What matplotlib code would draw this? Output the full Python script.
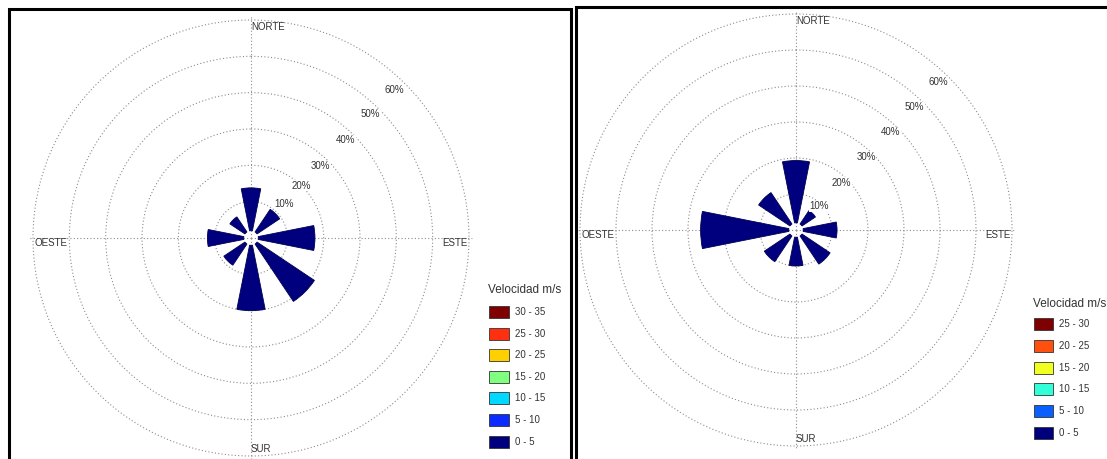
import numpy as np
import matplotlib.pyplot as plt
from matplotlib.patches import Rectangle

plt.rcParams['font.family'] = ['Liberation Sans', 'DejaVu Sans']

# wind directions (degrees clockwise from north)
dir_deg = [0, 45, 90, 135, 180, 225, 270, 315]
# frequency (%) per direction, all in the 0-5 m/s class
freq_left = [13.8, 9.5, 17.6, 21.0, 20.0, 9.0, 12.0, 7.0]
freq_right = [19.3, 6.5, 11.4, 11.4, 10.0, 10.6, 26.5, 12.5]

ring_vals = [10, 20, 30, 40, 50, 60]
ring_labels = ['10%', '20%', '30%', '40%', '50%', '60%']

classes_left = ['30 - 35', '25 - 30', '20 - 25', '15 - 20', '10 - 15', '5 - 10', '0 - 5']
colors_left = ['#7f0000', '#ff3010', '#ffd000', '#80ff80', '#00d8ff', '#0a2cff', '#00007f']
classes_right = ['25 - 30', '20 - 25', '15 - 20', '10 - 15', '5 - 10', '0 - 5']
colors_right = ['#7f0000', '#ff5010', '#f0ff20', '#30ffd8', '#0a60ff', '#00007f']

W, H = 1107, 459
fig = plt.figure(figsize=(W / 100, H / 100), dpi=100)
NAVY = '#00007f'
TXT = '#333333'
HOLE = 2.0
RMAX = 61.0


def fx(x):
    return x / W


def fy(y):
    return 1 - y / H


def rose(cx, cy, r60, freqs, lab_r):
    R = r60 * RMAX / 60
    ax = fig.add_axes([fx(cx - R), fy(cy + R), 2 * R / W, 2 * R / H], projection='polar')
    ax.set_theta_zero_location('N')
    ax.set_theta_direction(-1)
    th = np.deg2rad(dir_deg)
    ax.bar(th, np.array(freqs) - HOLE, width=np.deg2rad(22.5), bottom=HOLE,
           color=NAVY, edgecolor='#000050', lw=0.6, zorder=3)
    ax.set_ylim(0, RMAX)
    ax.set_yticks(ring_vals)
    ax.set_yticklabels([])
    ax.set_xticks(np.deg2rad([0, 90, 180, 270]))
    ax.set_xticklabels([])
    ax.grid(True, ls=(0, (1, 2)), color='0.55', lw=0.8)
    ax.spines['polar'].set_visible(False)
    ax.patch.set_alpha(0)
    for lab, r in zip(ring_labels, lab_r):
        ax.text(np.deg2rad(44), r, lab, fontsize=7, color=TXT, ha='center', va='center',
                bbox=dict(fc='white', ec='none', pad=0.3))
    ax.text(0, 59.5, 'NORTE', fontsize=7, color=TXT, ha='left', va='top')
    ax.text(np.pi / 2, 59.5, 'ESTE', fontsize=7, color=TXT, ha='right', va='top')
    ax.text(np.pi, 59.5, 'SUR', fontsize=7, color=TXT, ha='left', va='bottom')
    ax.text(3 * np.pi / 2, 59.5, 'OESTE', fontsize=7, color=TXT, ha='left', va='top')
    return ax


rose(251, 238, 218, freq_left, [13, 20, 27.5, 37.5, 47.4, 56.7])
rose(796, 230, 216, freq_right, [9.2, 18.3, 28, 37.8, 47.5, 57])


def legend(x0, ytitle, y0, dy, w, h, tx, classes, colors):
    fig.text(fx(x0 - 1), fy(ytitle), 'Velocidad m/s', fontsize=8.5, color=TXT, ha='left', va='center')
    for i, (c, col) in enumerate(zip(classes, colors)):
        yc = y0 + i * dy
        fig.add_artist(Rectangle((fx(x0), fy(yc + h / 2)), w / W, h / H, transform=fig.transFigure,
                                 fc=col, ec='#333333', lw=0.6))
        fig.text(fx(tx), fy(yc), c, fontsize=7, color=TXT, ha='left', va='center')


legend(489, 290, 312, 21.6, 20, 12, 515, classes_left, colors_left)
legend(1034, 304, 324, 21.8, 19, 12, 1059, classes_right, colors_right)

# panel frames
fig.add_artist(Rectangle((fx(9), fy(480)), (571 - 9) / W, (480 - 9) / H, transform=fig.transFigure,
                         fill=False, ec='black', lw=2.2))
fig.add_artist(Rectangle((fx(576), fy(480)), (1130 - 576) / W, (480 - 7) / H, transform=fig.transFigure,
                         fill=False, ec='black', lw=2.2))

fig.savefig('out.png', dpi=100)
